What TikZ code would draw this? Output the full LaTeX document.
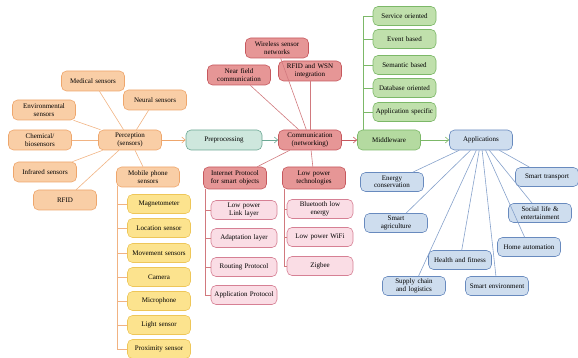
\documentclass[tikz,border=0pt]{standalone}
\usepackage{fontspec}
\setmainfont{Liberation Serif}
\usepackage{tikz}
\usetikzlibrary{arrows.meta}
\definecolor{orfill}{RGB}{249,206,166}
\definecolor{ordraw}{RGB}{238,166,108}
\definecolor{yefill}{RGB}{252,227,142}
\definecolor{yedraw}{RGB}{238,198,88}
\definecolor{tefill}{RGB}{206,231,221}
\definecolor{tedraw}{RGB}{108,168,148}
\definecolor{refill}{RGB}{230,150,150}
\definecolor{redraw}{RGB}{198,88,94}
\definecolor{pifill}{RGB}{250,221,229}
\definecolor{pidraw}{RGB}{214,128,148}
\definecolor{grfill}{RGB}{180,218,160}
\definecolor{grdraw}{RGB}{124,184,104}
\definecolor{lgfill}{RGB}{192,224,172}
\definecolor{blfill}{RGB}{206,221,238}
\definecolor{bldraw}{RGB}{104,138,190}
\tikzset{
  box/.style={rectangle, rounded corners=5pt, line width=0.6pt,
    minimum width=63pt, minimum height=20pt, text width=62pt, inner sep=0.5pt,
    align=center, font=\fontsize{7}{7.4}\selectfont},
  percbox/.style={box, draw=ordraw, fill=orfill},
  yelbox/.style={box, draw=yedraw, fill=yefill, minimum height=19pt},
  prepbox/.style={box, draw=tedraw, fill=tefill, minimum width=76pt, text width=72pt},
  commbox/.style={box, draw=redraw, fill=refill},
  pinkbox/.style={box, draw=pidraw, fill=pifill, minimum width=65pt, text width=65pt, minimum height=19pt},
  midbox/.style={box, draw=grdraw, fill=grfill},
  lgbox/.style={box, draw=grdraw, fill=lgfill, minimum height=19pt},
  appbox/.style={box, draw=bldraw, fill=blfill, minimum height=19pt},
  orline/.style={line width=0.6pt, color=ordraw!85},
  reline/.style={line width=0.6pt, color=redraw!80},
  grline/.style={line width=0.6pt, color=grdraw},
  blline/.style={line width=0.6pt, color=bldraw!80},
  flow/.style={-{Straight Barb[length=3.5pt,width=6pt]}, line width=0.6pt}
}
\begin{document}
\begin{tikzpicture}[x=1pt, y=-1pt]
  \useasboundingbox (0,0) rectangle (578,358);

  % Perception
  \node[percbox] (perc) at (130,140) {Perception\\(sensors)};
  \node[percbox] (medical) at (93,81) {Medical sensors};
  \node[percbox] (neural) at (155,100) {Neural sensors};
  \node[percbox] (env) at (44,110) {Environmental\\sensors};
  \node[percbox] (chem) at (40,140) {Chemical/\\biosensors};
  \node[percbox] (infra) at (45,172) {Infrared sensors};
  \node[percbox] (rfid) at (65,200) {RFID};
  \node[percbox] (mobile) at (148,177) {Mobile phone\\sensors};
  \foreach \child in {medical, neural, env, chem, infra, rfid, mobile}
    \draw[orline] (perc) -- (\child);

  % Mobile phone sensors list
  \coordinate (mobtrunk) at (117,186);
  \foreach \name/\ypos [count=\i] in {Magnetometer/204, Location sensor/228,
      Movement sensors/253, Camera/277, Microphone/301, Light sensor/325,
      Proximity sensor/349}
  {
    \node[yelbox] (ys\i) at (159,\ypos) {\name};
    \draw[orline] (ys\i.west) -- (ys\i.west -| mobtrunk);
  }
  \draw[orline] (mobtrunk) -- (mobtrunk |- ys7.west);

  % Preprocessing
  \node[prepbox] (prep) at (224,140) {Preprocessing};

  % Communication
  \node[commbox] (comm) at (310,140) {Communication\\(networking)};
  \node[commbox] (wsn) at (277,48) {Wireless sensor\\networks};
  \node[commbox] (nfc) at (239,75) {Near field\\communication};
  \node[commbox] (rfidwsn) at (310,71) {RFID and WSN\\integration};
  \node[commbox, minimum height=22pt] (ipso) at (235,178) {Internet Protocol\\for smart objects};
  \node[commbox, minimum height=22pt] (lowpow) at (314,178) {Low power\\technologies};
  \foreach \child in {wsn, nfc, rfidwsn, ipso, lowpow}
    \draw[reline] (comm) -- (\child);

  % Internet protocol list
  \coordinate (iptrunk) at (205,189);
  \foreach \name/\ypos [count=\i] in {Low power\\Link layer/210, Adaptation layer/238,
      Routing Protocol/267, Application Protocol/295}
  {
    \node[pinkbox] (ip\i) at (244,\ypos) {\name};
    \draw[reline] (ip\i.west) -- (ip\i.west -| iptrunk);
  }
  \draw[reline] (iptrunk) -- (iptrunk |- ip4.west);

  % Low power list
  \coordinate (lptrunk) at (284,189);
  \foreach \name/\ypos [count=\i] in {Bluetooth low\\energy/209, Low power WiFi/237,
      Zigbee/266}
  {
    \node[pinkbox] (lp\i) at (320,\ypos) {\name};
    \draw[reline] (lp\i.west) -- (lp\i.west -| lptrunk);
  }
  \draw[reline] (lptrunk) -- (lptrunk |- lp3.west);

  % Middleware
  \node[midbox] (mid) at (389,140) {Middleware};
  \coordinate (midtrunk) at (363,130);
  \foreach \name/\ypos [count=\i] in {Service oriented/16, Event based/39,
      Semantic based/65, Database oriented/88, Application specific/112}
  {
    \node[lgbox] (mw\i) at (404.5,\ypos) {\name};
    \draw[grline] (mw\i.west) -- (mw\i.west -| midtrunk);
  }
  \draw[grline] (midtrunk) -- (midtrunk |- mw1.west);

  % Applications
  \node[appbox, minimum height=20pt] (apps) at (481,140) {Applications};
  \node[appbox] (energy) at (392,182) {Energy\\conservation};
  \node[appbox] (transport) at (547,177) {Smart transport};
  \node[appbox] (agri) at (396,223) {Smart\\agriculture};
  \node[appbox] (social) at (540,213) {Social life \&\\entertainment};
  \node[appbox] (home) at (529,247) {Home automation};
  \node[appbox] (health) at (460,260) {Health and fitness};
  \node[appbox] (supply) at (414,286) {Supply chain\\and logistics};
  \node[appbox] (smartenv) at (497,286) {Smart environment};
  \foreach \child in {energy, transport, agri, social, home, health, supply, smartenv}
    \draw[blline] (apps) -- (\child);

  % Main flow
  \draw[flow, ordraw] (perc) -- (prep);
  \draw[flow, tedraw] (prep) -- (comm);
  \draw[flow, redraw] (comm) -- (mid);
  \draw[flow, grdraw] (mid) -- (apps);
\end{tikzpicture}
\end{document}
